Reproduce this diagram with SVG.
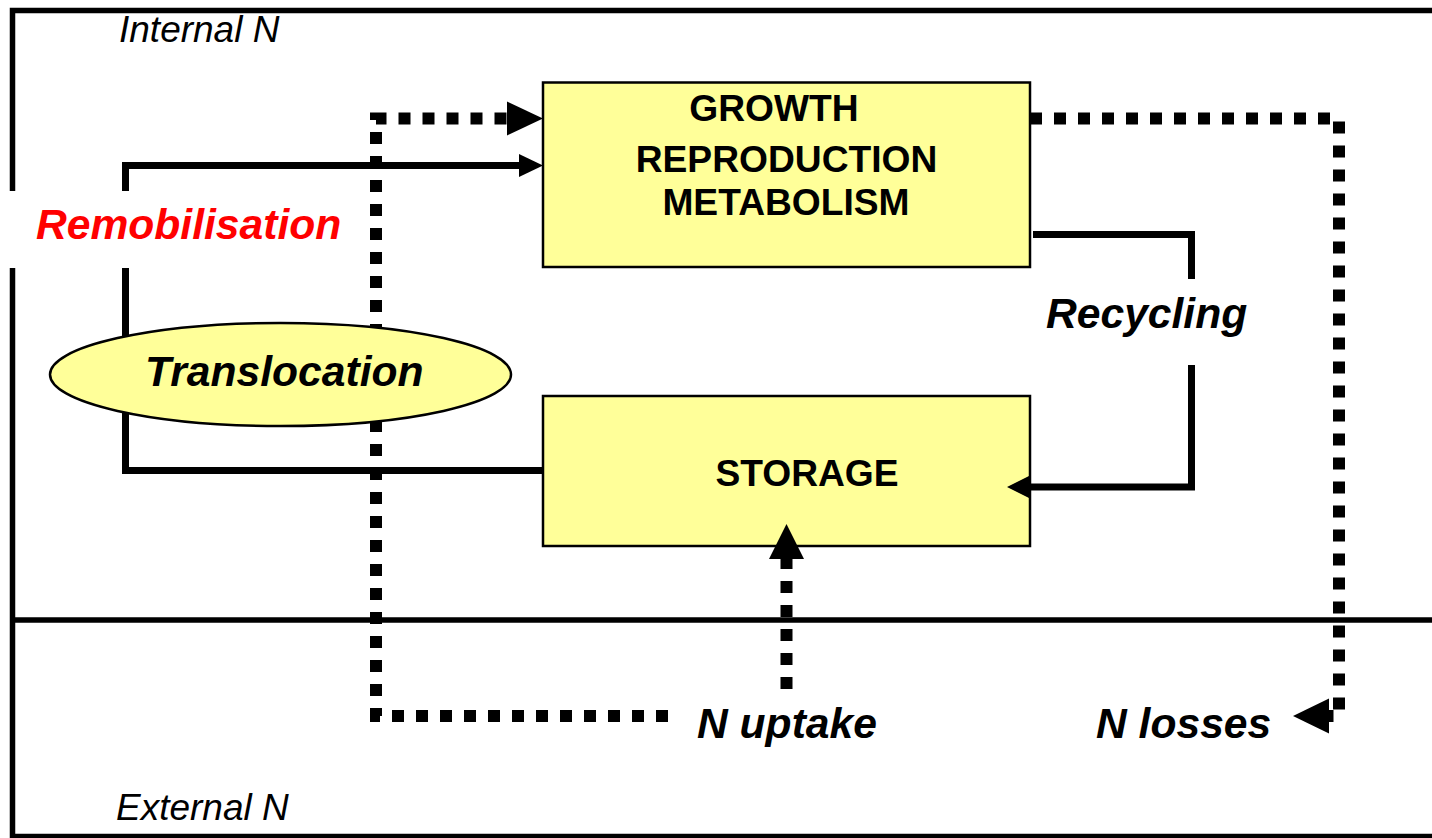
<svg xmlns="http://www.w3.org/2000/svg" width="1432" height="838" viewBox="0 0 1432 838">
<defs>
<style>
.box{fill:#FFFF99;stroke:#000;stroke-width:2.5}
.solid{fill:none;stroke:#000;stroke-width:7;stroke-linejoin:miter}
.dot{fill:none;stroke:#000;stroke-width:12;stroke-dasharray:12 12}
.head{fill:#000;stroke:none}
.lbl{font-family:"Liberation Sans",Arial,sans-serif;font-weight:bold;font-style:italic;font-size:42.6px;fill:#000}
.cap{font-family:"Liberation Sans",Arial,sans-serif;font-weight:bold;font-size:37.2px;fill:#000;text-anchor:middle}
.zone{font-family:"Liberation Sans",Arial,sans-serif;font-style:italic;font-size:37px;fill:#000}
</style>
</defs>
<rect x="0" y="0" width="1432" height="838" fill="#fff"/>
<g id="frame">
<rect x="12.5" y="10.5" width="1440" height="826" fill="#fff" stroke="#000" stroke-width="5.5"/>
<line x1="10" y1="620" x2="1432" y2="620" stroke="#000" stroke-width="5.5"/>
<text class="zone" x="119" y="42">Internal N</text>
<text class="zone" x="116" y="820">External N</text>
</g>
<g id="growth">
<rect class="box" x="543" y="82.5" width="487" height="184.5"/>
<text class="cap" x="774" y="121">GROWTH</text>
<text class="cap" x="786.5" y="172">REPRODUCTION</text>
<text class="cap" x="786" y="215">METABOLISM</text>
</g>
<g id="storage">
<rect class="box" x="543" y="396" width="487" height="150"/>
<text class="cap" x="807" y="486">STORAGE</text>
</g>
<g id="connectors">
<path class="solid" d="M543,470.5 H125.5 V165.5 H522"/>
<polygon class="head" points="519,154 543,165.5 519,177"/>
<path class="solid" d="M1033,234.5 H1191.5 V279"/>
<path class="solid" d="M1191.5,365 V487 H1028"/>
<polygon class="head" points="1030,475.5 1007,487 1030,498.5"/>
<path class="dot" d="M668,716 H376 V118.5 H507"/>
<polygon class="head" points="507,101.5 543,118.5 507,135.5"/>
<path class="dot" d="M786.5,689 V559"/>
<polygon class="head" points="769,559 786.5,524 804,559"/>
<path class="dot" d="M1030,118.5 H1339 V716 H1329"/>
<polygon class="head" points="1329,698.5 1293,716 1329,733.5"/>
</g>
<g id="remobilisation">
<rect x="8" y="191" width="358" height="77" fill="#fff"/>
<text class="lbl" x="36" y="239" style="fill:#FF0000">Remobilisation</text>
</g>
<g id="translocation">
<ellipse cx="280.5" cy="374.5" rx="230.5" ry="51.5" fill="#FFFF99" stroke="#000" stroke-width="2.5"/>
<text class="lbl" x="145" y="386">Translocation</text>
</g>
<g id="recycling">
<text class="lbl" x="1046" y="328">Recycling</text>
</g>
<g id="n-uptake">
<text class="lbl" x="697" y="738">N uptake</text>
</g>
<g id="n-losses">
<text class="lbl" x="1096" y="738">N losses</text>
</g>
</svg>
